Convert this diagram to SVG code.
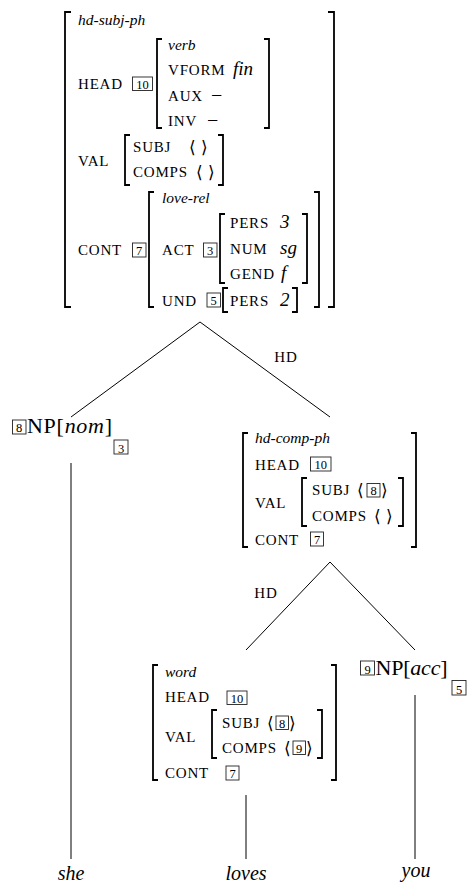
<svg xmlns="http://www.w3.org/2000/svg" width="468" height="884" viewBox="0 0 468 884">
<style>
text{font-family:"Liberation Serif","DejaVu Serif",serif;fill:#000}
.sc{font-size:15px;letter-spacing:0.8px}
.ty{font-size:15.5px;font-style:italic}
.v{font-size:19px;font-style:italic}
.mn{font-size:20px}
.ang{font-size:17px;font-family:"DejaVu Serif","DejaVu Sans",serif}
.tg{font-size:12.5px;text-anchor:middle}
.tb{fill:none;stroke:#222;stroke-width:0.9}
.br{fill:none;stroke:#000;stroke-width:1.8}
.np{font-size:22px}
.w{font-size:20px;font-style:italic;text-anchor:middle}
.ln{stroke:#000;stroke-width:1;fill:none}
</style>
<g id="connectors">
<line class="ln" x1="200" y1="322" x2="71" y2="417"/>
<line class="ln" x1="200" y1="322" x2="330" y2="417"/>
<text class="sc" x="286" y="362" text-anchor="middle">HD</text>
<line class="ln" x1="71" y1="463" x2="71" y2="859"/>
<line class="ln" x1="330" y1="562" x2="246" y2="650"/>
<line class="ln" x1="330" y1="562" x2="415" y2="650"/>
<text class="sc" x="266" y="598" text-anchor="middle">HD</text>
<line class="ln" x1="246" y1="795" x2="246" y2="859"/>
<line class="ln" x1="415" y1="695" x2="415" y2="859"/>
</g>
<g id="n-hd-subj-ph">
<path class="br" d="M71,12H65V307H71"/>
<path class="br" d="M328,12H334V307H328"/>
<text class="ty" x="78" y="25">hd-subj-ph</text>
<text class="sc" x="78" y="89">HEAD</text>
<rect class="tb" x="132.5" y="77" width="20" height="13.5"/>
<text class="tg" x="142.5" y="88.5">10</text>
<path class="br" d="M162,39H157V128H162"/>
<path class="br" d="M264,39H269V128H264"/>
<text class="ty" x="168" y="50">verb</text>
<text class="sc" x="168" y="75">VFORM</text>
<text class="v" x="233" y="75" font-size="20">fin</text>
<text class="sc" x="168" y="101">AUX</text>
<text class="mn" x="211" y="102">−</text>
<text class="sc" x="168" y="126">INV</text>
<text class="mn" x="207" y="127">−</text>
<text class="sc" x="78" y="166">VAL</text>
<path class="br" d="M130,135H125V185H130"/>
<path class="br" d="M218,135H223V185H218"/>
<text class="sc" x="133" y="152">SUBJ</text>
<text class="ang" x="189" y="153">⟨ ⟩</text>
<text class="sc" x="133" y="177">COMPS</text>
<text class="ang" x="196" y="178">⟨ ⟩</text>
<text class="sc" x="78" y="255">CONT</text>
<rect class="tb" x="132.5" y="243" width="13.5" height="14"/>
<text class="tg" x="139.2" y="255">7</text>
<path class="br" d="M154,192H149V307H154"/>
<path class="br" d="M314,192H319V307H314"/>
<text class="ty" x="162" y="203">love-rel</text>
<text class="sc" x="162" y="255">ACT</text>
<rect class="tb" x="203.5" y="243" width="13.5" height="14"/>
<text class="tg" x="210.2" y="255">3</text>
<path class="br" d="M225,214H220V283H225"/>
<path class="br" d="M302,214H307V283H302"/>
<text class="sc" x="230" y="228">PERS</text>
<text class="v" x="280" y="228">3</text>
<text class="sc" x="230" y="254">NUM</text>
<text class="v" x="280" y="254">sg</text>
<text class="sc" x="230" y="279">GEND</text>
<text class="v" x="281" y="279">f</text>
<text class="sc" x="162" y="306">UND</text>
<rect class="tb" x="207" y="293" width="13.5" height="14"/>
<text class="tg" x="213.7" y="305">5</text>
<path class="br" d="M228,288H223V312H228"/>
<path class="br" d="M292,288H297V312H292"/>
<text class="sc" x="230" y="306">PERS</text>
<text class="v" x="280" y="306">2</text>
</g>
<g id="n-np-nom">
<rect class="tb" x="12.5" y="420" width="13.5" height="14"/>
<text class="tg" x="19.2" y="432" font-size="14">8</text>
<text class="np" x="27" y="433" textLength="85">NP[<tspan font-style="italic">nom</tspan>]</text>
<rect class="tb" x="114" y="440" width="14" height="14"/>
<text class="tg" x="121" y="452.5" font-size="14">3</text>
</g>
<g id="n-hd-comp-ph">
<path class="br" d="M248,433H243V547H248"/>
<path class="br" d="M411,433H416V547H411"/>
<text class="ty" x="255" y="443">hd-comp-ph</text>
<text class="sc" x="255" y="470">HEAD</text>
<rect class="tb" x="310.5" y="457" width="20.5" height="14"/>
<text class="tg" x="320.7" y="469">10</text>
<text class="sc" x="255" y="508">VAL</text>
<path class="br" d="M307,478H302V526H307"/>
<path class="br" d="M398,478H403V526H398"/>
<text class="sc" x="312" y="495">SUBJ</text>
<text class="ang" x="357" y="496">⟨</text>
<rect class="tb" x="367" y="483.5" width="13" height="13.5"/>
<text class="tg" x="373.5" y="495">8</text>
<text class="ang" x="381" y="496">⟩</text>
<text class="sc" x="312" y="521">COMPS</text>
<text class="ang" x="374" y="522">⟨ ⟩</text>
<text class="sc" x="255" y="545">CONT</text>
<rect class="tb" x="310.5" y="532" width="13" height="14"/>
<text class="tg" x="317" y="544">7</text>
</g>
<g id="n-word">
<path class="br" d="M158,665H153V780H158"/>
<path class="br" d="M331,665H336V780H331"/>
<text class="ty" x="165" y="677">word</text>
<text class="sc" x="165" y="702">HEAD</text>
<rect class="tb" x="227" y="691" width="20" height="13.5"/>
<text class="tg" x="237" y="702.5">10</text>
<text class="sc" x="165" y="742">VAL</text>
<path class="br" d="M217,710H212V758H217"/>
<path class="br" d="M317,710H322V758H317"/>
<text class="sc" x="222" y="728">SUBJ</text>
<text class="ang" x="267" y="729">⟨</text>
<rect class="tb" x="276" y="716" width="12.5" height="13.5"/>
<text class="tg" x="282.2" y="727.5">8</text>
<text class="ang" x="289" y="729">⟩</text>
<text class="sc" x="222" y="753">COMPS</text>
<text class="ang" x="284" y="754">⟨</text>
<rect class="tb" x="293" y="741" width="12.5" height="13.5"/>
<text class="tg" x="299.2" y="752.5">9</text>
<text class="ang" x="306" y="754">⟩</text>
<text class="sc" x="165" y="778">CONT</text>
<rect class="tb" x="226" y="766" width="13" height="14"/>
<text class="tg" x="232.5" y="778">7</text>
</g>
<g id="n-np-acc">
<rect class="tb" x="360.5" y="661" width="14" height="14"/>
<text class="tg" x="367.5" y="673.5" font-size="14">9</text>
<text class="np" x="375.5" y="675" textLength="72">NP[<tspan font-style="italic">acc</tspan>]</text>
<rect class="tb" x="452" y="680.5" width="14" height="14.5"/>
<text class="tg" x="459" y="693.5" font-size="14">5</text>
</g>
<g id="n-she"><text class="w" x="71" y="880">she</text></g>
<g id="n-loves"><text class="w" x="246" y="880">loves</text></g>
<g id="n-you"><text class="w" x="416" y="877">you</text></g>
</svg>
